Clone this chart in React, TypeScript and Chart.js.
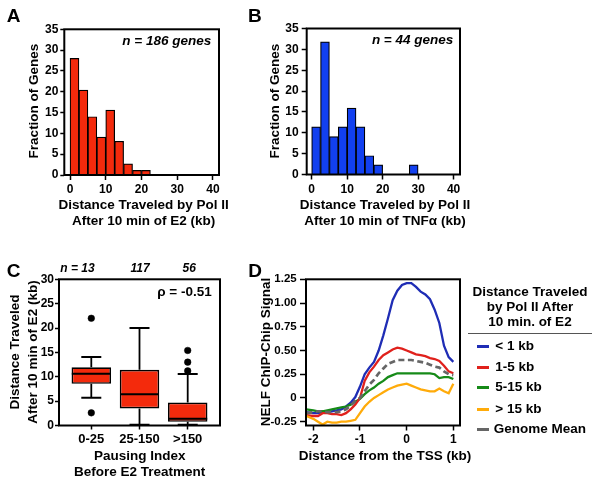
import React, { useEffect, useRef } from 'react';
import { Chart, registerables } from 'chart.js';

Chart.register(...registerables);

const W = 602;
const H = 485;
const FONT = "'Liberation Sans', Arial, Helvetica, sans-serif";
Chart.defaults.font.family = FONT;

// ---------- Panel A / B : histograms ----------
const histBinStartsA = [0, 2.5, 5, 7.5, 10, 12.5, 15, 17.5, 20];
const histFractionA = [28.0, 20.4, 14.0, 9.1, 15.6, 8.1, 2.7, 1.1, 1.1];
const histBinStartsB = [0, 2.5, 5, 7.5, 10, 12.5, 15, 17.5, 27.5];
const histFractionB = [11.4, 31.8, 9.1, 11.4, 15.9, 11.4, 4.5, 2.3, 2.3];
const histBinWidth = 2.5;
const histXTicks = [0, 10, 20, 30, 40];
const histYTicks = [0, 5, 10, 15, 20, 25, 30, 35];

// ---------- Panel C : box plot ----------
const pauseCategories = ['0-25', '25-150', '>150'];
const pauseCounts = ['n = 13', '117', '56'];
const boxLow = [5.7, 0.15, 0.15];
const boxQ1 = [8.55, 3.5, 0.75];
const boxMedian = [10.6, 6.4, 1.4];
const boxQ3 = [11.95, 11.45, 4.7];
const boxHigh = [14.05, 20.0, 10.55];
const boxOutliers = [[22.0, 2.6], [], [15.4, 13.0, 11.2]];
const boxYTicks = [0, 5, 10, 15, 20, 25, 30];
const boxXTicks = [0, 1, 2];

// ---------- Panel D : NELF profiles ----------
const tssDistance = [-2.15, -2.0, -1.9, -1.8, -1.7, -1.6, -1.5, -1.4, -1.3, -1.2, -1.1, -1.0, -0.9, -0.8, -0.7, -0.6, -0.5, -0.4, -0.3, -0.2, -0.1, 0.0, 0.1, 0.2, 0.3, 0.4, 0.5, 0.6, 0.7, 0.8, 0.9, 1.0];
const nelfLt1kb = [-0.15, -0.16, -0.16, -0.15, -0.15, -0.14, -0.13, -0.12, -0.09, -0.05, 0.01, 0.12, 0.25, 0.32, 0.38, 0.50, 0.66, 0.84, 1.03, 1.13, 1.19, 1.21, 1.21, 1.17, 1.12, 1.09, 1.04, 0.93, 0.79, 0.55, 0.43, 0.38];
const nelf1to5kb = [-0.18, -0.19, -0.19, -0.16, -0.16, -0.17, -0.17, -0.18, -0.16, -0.12, -0.07, 0.0, 0.18, 0.27, 0.33, 0.40, 0.45, 0.48, 0.51, 0.53, 0.52, 0.50, 0.48, 0.46, 0.45, 0.44, 0.42, 0.41, 0.39, 0.34, 0.28, 0.26];
const nelf5to15kb = [-0.12, -0.13, -0.14, -0.14, -0.13, -0.12, -0.11, -0.10, -0.09, -0.07, -0.04, -0.01, 0.04, 0.08, 0.11, 0.15, 0.18, 0.22, 0.24, 0.26, 0.26, 0.26, 0.26, 0.26, 0.26, 0.26, 0.26, 0.25, 0.21, 0.22, 0.22, 0.20];
const nelfGt15kb = [-0.19, -0.22, -0.25, -0.28, -0.25, -0.26, -0.26, -0.25, -0.25, -0.24, -0.23, -0.16, -0.09, -0.04, 0.0, 0.03, 0.06, 0.09, 0.11, 0.13, 0.14, 0.15, 0.13, 0.11, 0.09, 0.08, 0.07, 0.07, 0.10, 0.07, 0.05, 0.15];
const nelfGenomeMean = [-0.16, -0.15, -0.14, -0.14, -0.15, -0.15, -0.15, -0.14, -0.12, -0.08, -0.03, 0.0, 0.07, 0.14, 0.19, 0.26, 0.31, 0.36, 0.38, 0.40, 0.40, 0.40, 0.40, 0.39, 0.38, 0.37, 0.35, 0.33, 0.32, 0.28, 0.25, 0.24];
const nelfXTicks = [-2, -1, 0, 1];
const nelfYTicks = [-0.25, 0, 0.25, 0.5, 0.75, 1.0, 1.25];
const seriesLabels = ['< 1 kb', '1-5 kb', '5-15 kb', '> 15 kb', 'Genome Mean'];
const seriesColors = ['#1f2db5', '#e0211c', '#168a18', '#ffab0a', '#666666'];

const RED = '#f42a0c';
const BLUE = '#1240f0';

const framePlugin = {
  id: 'frameBox',
  afterDraw(chart: any) {
    const { ctx, chartArea: a } = chart;
    ctx.save();
    ctx.strokeStyle = '#000';
    ctx.lineWidth = 2;
    ctx.strokeRect(a.left, a.top, a.right - a.left, a.bottom - a.top);
    ctx.restore();
  },
};

const bold = (size: number, lineHeight = 1.2) => ({ family: FONT, size, weight: 'bold' as const, lineHeight });

function gridOpts(tickLength: number) {
  return { display: true, drawOnChartArea: false, drawTicks: true, tickLength, color: '#000', tickWidth: 1.5 };
}

function padFor(area: { l: number; t: number; r: number; b: number }, yW: number, xH: number) {
  return { left: area.l - yW, top: area.t, right: W - area.r, bottom: H - area.b - xH };
}

function histConfig(starts: number[], values: number[], color: string, area: any, xMin: number, xMax: number, yTickLen: number, yTickPad: number) {
  const yW = 30;
  const xH = 30;
  return {
    type: 'bar',
    data: {
      datasets: [
        {
          data: starts.map((s, i) => ({ x: s + histBinWidth / 2, y: values[i] })),
          backgroundColor: color,
          borderColor: '#000',
          borderWidth: 1.2,
          barPercentage: 1,
          categoryPercentage: 1,
        },
      ],
    },
    options: {
      responsive: false,
      animation: false,
      layout: { padding: padFor(area, yW, xH) },
      plugins: { legend: { display: false }, tooltip: { enabled: false } },
      scales: {
        x: {
          type: 'linear',
          offset: false,
          min: xMin,
          max: xMax,
          afterBuildTicks: (s: any) => { s.ticks = histXTicks.map((v) => ({ value: v })); },
          afterFit: (s: any) => { s.height = xH; },
          grid: { ...gridOpts(5), offset: false },
          border: { display: false },
          ticks: { font: bold(12), color: '#000', padding: 2.8, maxRotation: 0, autoSkip: false },
        },
        y: {
          min: 0,
          max: 35,
          afterBuildTicks: (s: any) => { s.ticks = histYTicks.map((v) => ({ value: v })); },
          afterFit: (s: any) => { s.width = yW; },
          grid: gridOpts(yTickLen),
          border: { display: false },
          ticks: { font: bold(12), color: '#000', padding: yTickPad },
        },
      },
    },
    plugins: [framePlugin],
  };
}

function boxConfig() {
  const area = { l: 59, t: 279.3, r: 220, b: 425.5 };
  const yW = 30;
  const xH = 30;
  const caps: { x: number; y: number }[] = [];
  pauseCategories.forEach((_, i) => { caps.push({ x: i, y: boxLow[i] }); caps.push({ x: i, y: boxHigh[i] }); });
  const whiskers: { x: number; y: number | null }[] = [];
  pauseCategories.forEach((_, i) => {
    whiskers.push({ x: i, y: boxLow[i] }, { x: i, y: boxQ1[i] }, { x: i, y: null }, { x: i, y: boxQ3[i] }, { x: i, y: boxHigh[i] }, { x: i, y: null });
  });
  const outliers: { x: number; y: number }[] = [];
  boxOutliers.forEach((arr, i) => arr.forEach((v) => outliers.push({ x: i, y: v })));
  return {
    type: 'bar',
    data: {
      datasets: [
        {
          type: 'scatter',
          data: pauseCategories.map((_, i) => ({ x: i, y: boxMedian[i] })),
          pointStyle: 'line',
          pointRadius: 19.5,
          pointBorderColor: '#000',
          pointBorderWidth: 2,
          borderColor: '#000',
          showLine: false,
        },
        {
          type: 'scatter',
          data: outliers,
          pointStyle: 'circle',
          pointRadius: 3.3,
          pointBackgroundColor: '#000',
          pointBorderColor: '#000',
          pointBorderWidth: 0.5,
          showLine: false,
        },
        {
          type: 'bar',
          data: pauseCategories.map((_, i) => ({ x: i, y: [boxQ1[i], boxQ3[i]] })),
          backgroundColor: RED,
          borderColor: '#000',
          borderWidth: 1.7,
          borderSkipped: false,
          barPercentage: 0.82,
          categoryPercentage: 1,
        },
        {
          type: 'scatter',
          data: caps,
          pointStyle: 'line',
          pointRadius: 10,
          pointBorderColor: '#000',
          pointBorderWidth: 2,
          borderColor: '#000',
          showLine: false,
        },
        {
          type: 'line',
          data: whiskers,
          borderColor: '#000',
          borderWidth: 1.8,
          pointRadius: 0,
          spanGaps: false,
        },
      ],
    },
    options: {
      responsive: false,
      animation: false,
      layout: { padding: padFor(area, yW, xH) },
      plugins: { legend: { display: false }, tooltip: { enabled: false } },
      scales: {
        x: {
          type: 'linear',
          offset: false,
          min: -0.67,
          max: 2.67,
          afterBuildTicks: (s: any) => { s.ticks = boxXTicks.map((v) => ({ value: v })); },
          afterFit: (s: any) => { s.height = xH; },
          grid: { ...gridOpts(4), offset: false },
          border: { display: false },
          ticks: { font: bold(13), color: '#000', padding: 2, maxRotation: 0, autoSkip: false, callback: (v: any) => pauseCategories[v] },
        },
        y: {
          min: 0,
          max: 30,
          afterBuildTicks: (s: any) => { s.ticks = boxYTicks.map((v) => ({ value: v })); },
          afterFit: (s: any) => { s.width = yW; },
          grid: gridOpts(4),
          border: { display: false },
          ticks: { font: bold(12), color: '#000', padding: 1 },
        },
      },
    },
    plugins: [framePlugin],
  };
}

function lineConfig() {
  const area = { l: 306, t: 279.3, r: 460, b: 425.5 };
  const yW = 40;
  const xH = 30;
  const series = [nelfLt1kb, nelf1to5kb, nelf5to15kb, nelfGt15kb, nelfGenomeMean];
  const drawOrder = [4, 2, 3, 1, 0];
  return {
    type: 'line',
    data: {
      datasets: series.map((vals, k) => ({
        label: seriesLabels[k],
        data: tssDistance.map((x, i) => ({ x, y: vals[i] })),
        borderColor: seriesColors[k],
        borderWidth: k === 4 ? 2.7 : 2.3,
        borderDash: k === 4 ? [6, 3.5] : [],
        pointRadius: 0,
        tension: 0,
        fill: false,
        order: drawOrder[k],
      })),
    },
    options: {
      responsive: false,
      animation: false,
      layout: { padding: padFor(area, yW, xH) },
      plugins: { legend: { display: false }, tooltip: { enabled: false } },
      scales: {
        x: {
          type: 'linear',
          min: -2.157,
          max: 1.143,
          afterBuildTicks: (s: any) => { s.ticks = nelfXTicks.map((v) => ({ value: v })); },
          afterFit: (s: any) => { s.height = xH; },
          grid: gridOpts(5),
          border: { display: false },
          ticks: { font: bold(12), color: '#000', padding: 1.6, maxRotation: 0, autoSkip: false },
        },
        y: {
          min: -0.29,
          max: 1.25,
          afterBuildTicks: (s: any) => { s.ticks = nelfYTicks.map((v) => ({ value: v })); },
          afterFit: (s: any) => { s.width = yW; },
          grid: gridOpts(6),
          border: { display: false },
          ticks: { font: bold(11.5), color: '#000', padding: 3.3, callback: (v: any) => (v === 0 ? '0' : Number(v).toFixed(2)) },
        },
      },
    },
    plugins: [framePlugin],
  };
}

function Txt(props: { x: number; y: number; size: number; text: string; align?: 'left' | 'center' | 'right'; italic?: boolean; rotate?: boolean }) {
  const { x, y, size, text, align = 'center', italic = false, rotate = false } = props;
  const tx = align === 'center' ? '-50%' : align === 'right' ? '-100%' : '0';
  return (
    <div
      style={{
        position: 'absolute',
        left: x,
        top: y,
        transform: `translate(${tx}, -50%)${rotate ? ' rotate(-90deg)' : ''}`,
        font: `${italic ? 'italic ' : ''}bold ${size}px ${FONT}`,
        lineHeight: `${size}px`,
        whiteSpace: 'nowrap',
        color: '#000',
      }}
    >
      {text}
    </div>
  );
}

export default function App() {
  const refA = useRef<HTMLCanvasElement>(null);
  const refB = useRef<HTMLCanvasElement>(null);
  const refC = useRef<HTMLCanvasElement>(null);
  const refD = useRef<HTMLCanvasElement>(null);

  useEffect(() => {
    const charts: Chart[] = [];
    charts.push(new Chart(refA.current as HTMLCanvasElement, histConfig(histBinStartsA, histFractionA, RED, { l: 64.3, t: 29.3, r: 219, b: 175 }, -1.6, 41.7, 4, 2) as any));
    charts.push(new Chart(refB.current as HTMLCanvasElement, histConfig(histBinStartsB, histFractionB, BLUE, { l: 306.7, t: 28.5, r: 460, b: 174.5 }, -1.4, 41.8, 5, 3) as any));
    charts.push(new Chart(refC.current as HTMLCanvasElement, boxConfig() as any));
    charts.push(new Chart(refD.current as HTMLCanvasElement, lineConfig() as any));
    return () => charts.forEach((c) => c.destroy());
  }, []);

  const canvasStyle: React.CSSProperties = { position: 'absolute', left: 0, top: 0, width: W, height: H };
  const legendY = [346, 367, 387, 409, 429];
  const countX = [77.5, 140, 189.3];
  const T = 13.5;

  return (
    <div style={{ position: 'absolute', left: 0, top: 0, width: W, height: H, background: '#fff', overflow: 'hidden' }}>
      <canvas ref={refA} width={W} height={H} style={canvasStyle} />
      <canvas ref={refB} width={W} height={H} style={canvasStyle} />
      <canvas ref={refC} width={W} height={H} style={canvasStyle} />
      <canvas ref={refD} width={W} height={H} style={canvasStyle} />

      <Txt x={6.7} y={15} size={19} text="A" align="left" />
      <Txt x={248} y={15} size={19} text="B" align="left" />
      <Txt x={6.7} y={270} size={19} text="C" align="left" />
      <Txt x={248.3} y={270} size={19} text="D" align="left" />

      {/* axis titles */}
      <Txt x={33.8} y={101} size={T} text="Fraction of Genes" rotate />
      <Txt x={143.7} y={205} size={T} text="Distance Traveled by Pol II" />
      <Txt x={143.7} y={220.5} size={T} text="After 10 min of E2 (kb)" />

      <Txt x={275} y={101} size={T} text="Fraction of Genes" rotate />
      <Txt x={385} y={205} size={T} text="Distance Traveled by Pol II" />
      <Txt x={385} y={220.5} size={T} text="After 10 min of TNFα (kb)" />

      <Txt x={14.7} y={352} size={T} text="Distance Traveled" rotate />
      <Txt x={33} y={352} size={T} text="After 10 min of E2 (kb)" rotate />
      <Txt x={139.7} y={456} size={T} text="Pausing Index" />
      <Txt x={139.7} y={471.7} size={T} text="Before E2 Treatment" />

      <Txt x={266} y={351.5} size={T} text="NELF ChIP-Chip Signal" rotate />
      <Txt x={385} y={456} size={T} text="Distance from the TSS (kb)" />

      <Txt x={211.3} y={40.5} size={T} text="n = 186 genes" align="right" italic />
      <Txt x={453.3} y={40} size={T} text="n = 44 genes" align="right" italic />

      {pauseCounts.map((t, i) => (
        <Txt key={t} x={countX[i]} y={267.5} size={12} text={t} italic />
      ))}
      <Txt x={211.7} y={291.5} size={T} text="ρ = -0.51" align="right" />

      <Txt x={530} y={291.5} size={T} text="Distance Traveled" />
      <Txt x={530} y={306.7} size={T} text="by Pol II After" />
      <Txt x={530} y={321.7} size={T} text="10 min. of E2" />
      <div style={{ position: 'absolute', left: 468, top: 332.5, width: 124, height: 1.5, background: '#555' }} />
      {seriesLabels.map((lab, k) => (
        <React.Fragment key={lab}>
          <div style={{ position: 'absolute', left: 477, top: legendY[k] - 1.5, width: 11.7, height: 3, background: seriesColors[k] }} />
          <Txt x={k === 4 ? 493.7 : 495.3} y={legendY[k]} size={T} text={lab} align="left" />
        </React.Fragment>
      ))}
    </div>
  );
}
